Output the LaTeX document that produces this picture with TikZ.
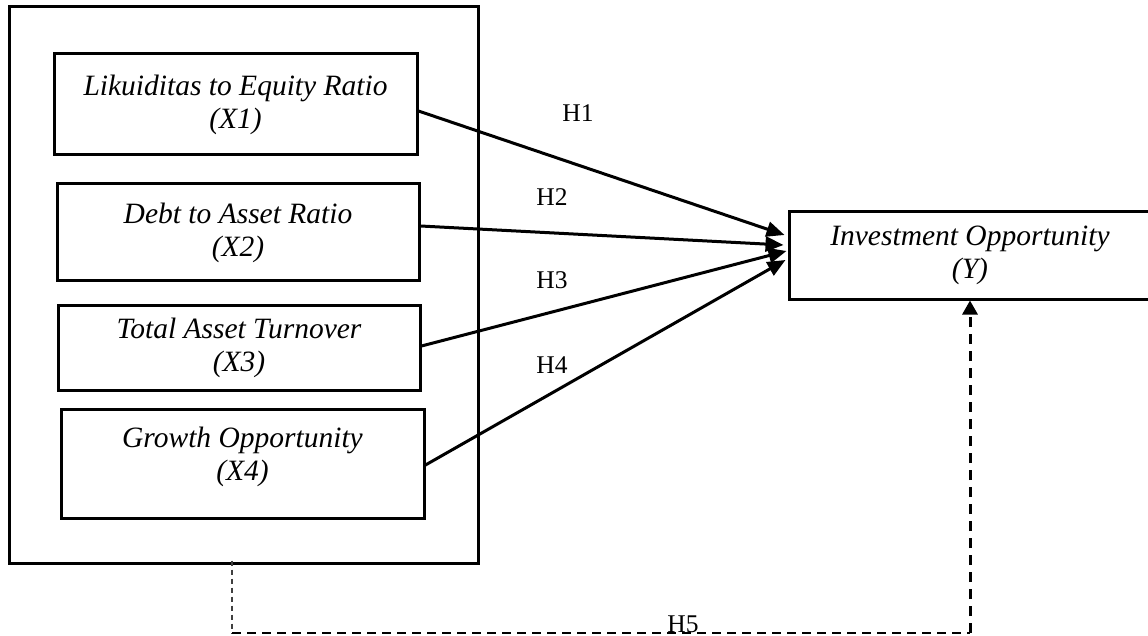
\documentclass[tikz,border=0pt]{standalone}
\usepackage{fontspec}
\setmainfont{Liberation Serif}
\usetikzlibrary{arrows.meta}
\begin{document}
\begin{tikzpicture}[x=1pt,y=-1pt,
  box/.style={draw,line width=3pt,inner sep=0pt,align=center,
    font=\fontsize{29.5}{33}\selectfont\itshape},
  conn/.style={line width=3pt,-{Triangle[length=18pt,width=15pt]}},
  hlabel/.style={font=\fontsize{25.5}{30}\selectfont,inner sep=0pt}]
\useasboundingbox (0,0) rectangle (1148,636);
\clip (0,0) rectangle (1148,636);
\fill[white] (0,0) rectangle (1148,636);
% outer frame
\node[draw,line width=3pt,minimum width=469pt,minimum height=556pt,inner sep=0pt] (outer) at (243.5,285) {};
% inner boxes
\node[box,minimum width=363pt,minimum height=101pt] (x1) at (235.5,104.5) {Likuiditas to Equity Ratio\\(X1)};
\node[box,minimum width=362pt,minimum height=97pt] (x2) at (238,232.5) {Debt to Asset Ratio\\(X2)};
\node[box,minimum width=362pt,minimum height=85pt] (x3) at (239,347.5) {Total Asset Turnover\\(X3)};
\node[box,minimum width=363pt,minimum height=109pt] (x4) at (242.5,463.5) {};
\node[font=\fontsize{29.5}{33}\selectfont\itshape,align=center,inner sep=0pt] (x4t) at (242.5,457) {Growth Opportunity\\(X4)};
% dependent
\node[box,minimum width=362pt,minimum height=87pt] (y) at (970,255.5) {Investment Opportunity\\(Y)};
% connectors
\draw[conn] ([yshift=-6.5pt]x1.east) -- ([xshift=-3pt,yshift=20.5pt]y.west);
\draw[conn] ([yshift=6.5pt]x2.east) -- ([xshift=-4pt,yshift=10.5pt]y.west);
\draw[conn] ([yshift=1.5pt]x3.east) -- ([xshift=-1pt,yshift=4.5pt]y.west);
\draw[conn] ([yshift=-1.5pt]x4.east) -- ([xshift=-2pt,yshift=-4.5pt]y.west);
% labels
\node[hlabel] (h1) at (578,113) {H1};
\node[hlabel] (h2) at (552,197) {H2};
\node[hlabel] (h3) at (552,280) {H3};
\node[hlabel] (h4) at (552,365) {H4};
\node[hlabel,anchor=base] (h5) at (683,632) {H5};
% moderating path
\coordinate (d1) at (232,633);
\coordinate (d2) at (970,633);
\draw[line width=1.4pt,dash pattern=on 5pt off 4pt,black!75] ([xshift=-11.5pt,yshift=4pt]outer.south) -- (d1);
\draw[line width=2.4pt,dash pattern=on 9pt off 6pt] (d1) -- (d2);
\draw[line width=3pt,dash pattern=on 10pt off 7pt,-{Triangle[length=14pt,width=15pt]}] (d2) -- (y.south);
\end{tikzpicture}
\end{document}
